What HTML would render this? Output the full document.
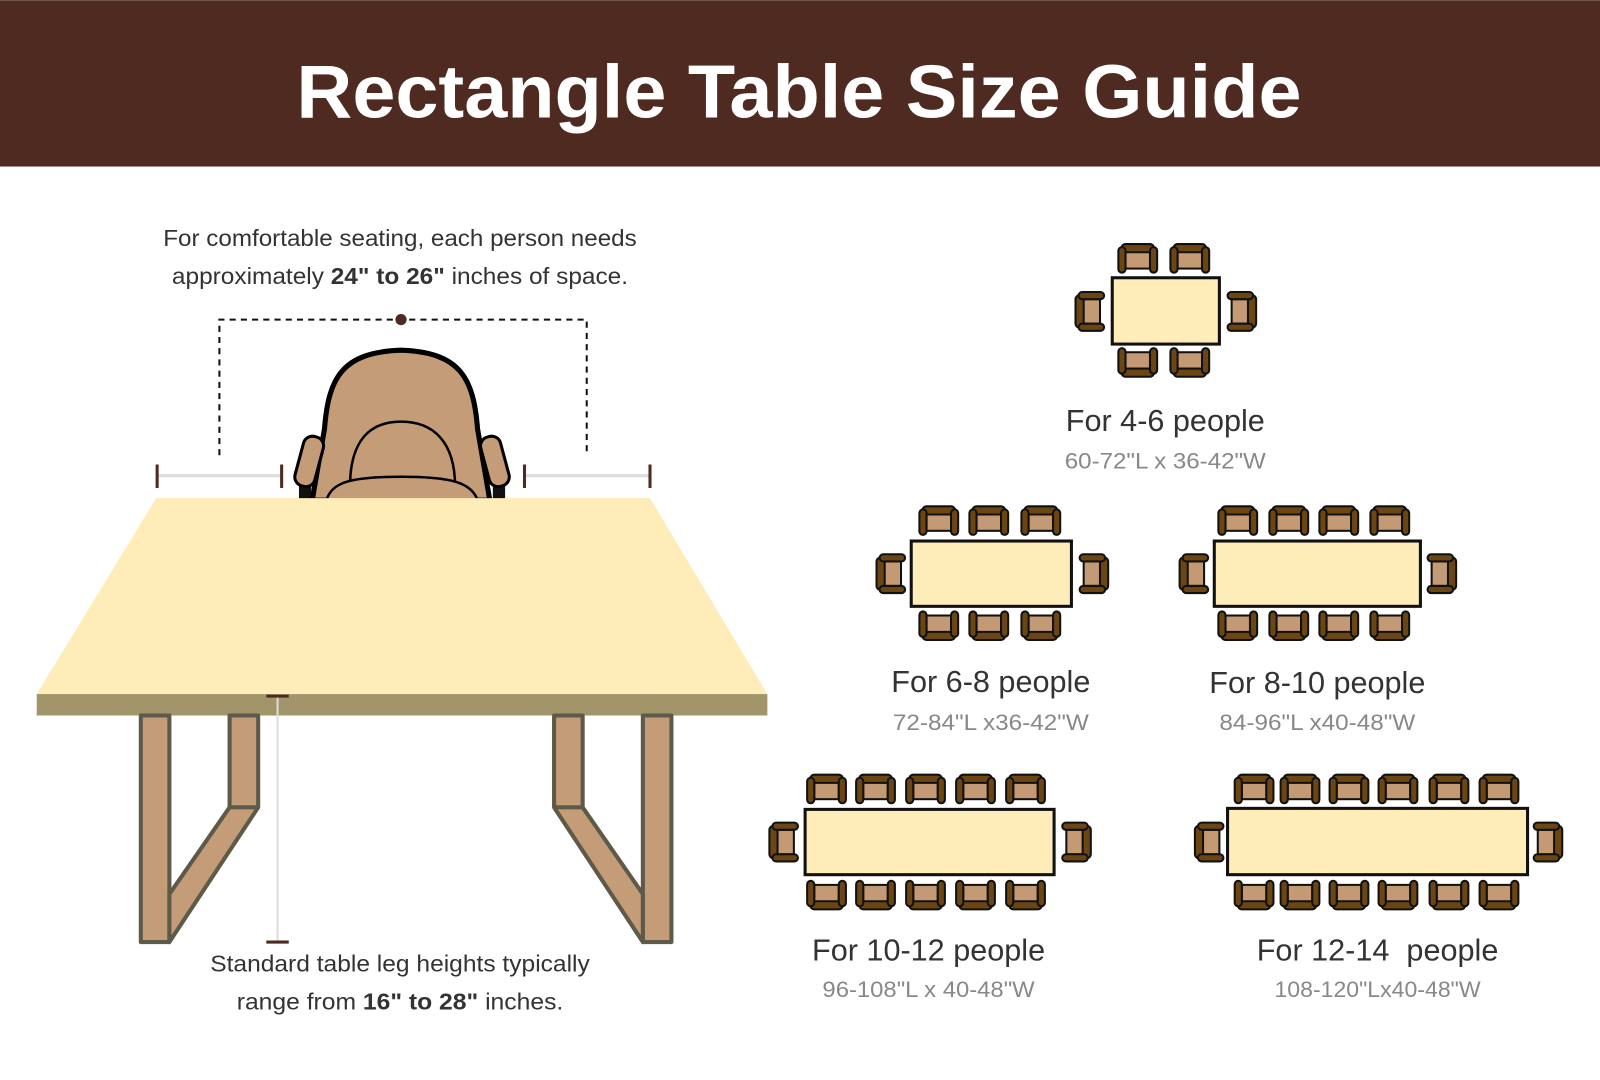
<!DOCTYPE html>
<html><head><meta charset="utf-8"><style>
html,body{margin:0;padding:0;background:#fff;}
svg{display:block;}
text{font-family:"Liberation Sans",sans-serif;}
</style></head><body>
<svg width="1600" height="1080" viewBox="0 0 1568 1058" xmlns="http://www.w3.org/2000/svg">
<defs>
<g id="ch">
<rect x="-12" y="-10" width="24" height="19" fill="#c49a74" stroke="#111" stroke-width="2"/>
<rect x="-16" y="-15" width="32" height="8" rx="4" fill="#6b4512" stroke="#111" stroke-width="2"/>
<rect x="-19" y="-12" width="7" height="25" rx="3.5" fill="#6b4512" stroke="#111" stroke-width="2"/>
<rect x="12" y="-12" width="7" height="25" rx="3.5" fill="#6b4512" stroke="#111" stroke-width="2"/>
</g>
</defs>
<rect x="0" y="0" width="1568" height="163" fill="#4e2a20"/>
<text x="783" y="115" text-anchor="middle" font-size="74" font-weight="bold" fill="#fff" textLength="985" lengthAdjust="spacingAndGlyphs">Rectangle Table Size Guide</text>

<!-- left text -->
<text x="392" y="241" text-anchor="middle" font-size="23" fill="#333" textLength="464" lengthAdjust="spacingAndGlyphs">For comfortable seating, each person needs</text>
<text x="392" y="278" text-anchor="middle" font-size="23" fill="#333" textLength="447" lengthAdjust="spacingAndGlyphs">approximately <tspan font-weight="bold">24" to 26"</tspan> inches of space.</text>

<path d="M215,446 V313 H575 V446" fill="none" stroke="#111" stroke-width="2" stroke-dasharray="6,5"/>
<circle cx="393" cy="313" r="5.5" fill="#4e2a20"/>
<line x1="153" y1="466" x2="276" y2="466" stroke="#ddd" stroke-width="3"/>
<line x1="514" y1="466" x2="637" y2="466" stroke="#ddd" stroke-width="3"/>
<g stroke="#4e2a20" stroke-width="3">
<line x1="154" y1="455" x2="154" y2="478"/><line x1="276" y1="455" x2="276" y2="478"/>
<line x1="514" y1="455" x2="514" y2="478"/><line x1="637" y1="455" x2="637" y2="478"/>
</g>

<!-- big chair -->
<rect x="293" y="465" width="12" height="25" fill="#111"/>
<rect x="483" y="465" width="12" height="25" fill="#111"/>
<path d="M306,490 L318,420 C322,370 335,345 393,343 C451,345 464,370 468,420 L480,490 Z" fill="#c49c78" stroke="#000" stroke-width="5"/>
<path d="M343,477 C343,432 362,413 393,413 C424,413 446,432 446,477" fill="none" stroke="#000" stroke-width="2.5"/>
<path d="M320,490 C325,472 345,467 393,467 C440,467 462,472 468,490" fill="#c49c78" stroke="#000" stroke-width="2.5"/>
<rect x="-10" y="-25" width="20" height="50" rx="9" transform="translate(303,452) rotate(15)" fill="#c49c78" stroke="#000" stroke-width="3"/>
<rect x="-10" y="-25" width="20" height="50" rx="9" transform="translate(485,452) rotate(-15)" fill="#c49c78" stroke="#000" stroke-width="3"/>

<!-- table -->
<polygon points="153,488 637,488 752,680 36,680" fill="#feedb9"/>
<rect x="36" y="680" width="716" height="21" fill="#a3956a"/>
<g fill="#c49c78" stroke="#5e5a4a" stroke-width="4" stroke-linejoin="round">
<rect x="138" y="701" width="28" height="222"/>
<polygon points="225,701 253,701 253,791 166,923 166,876 225,791"/>
<line x1="225" y1="791" x2="253" y2="791"/>
<rect x="630" y="701" width="28" height="222"/>
<polygon points="571,701 543,701 543,791 630,923 630,876 571,791"/>
<line x1="571" y1="791" x2="543" y2="791"/>
</g>
<line x1="272" y1="682" x2="272" y2="923" stroke="#ddd" stroke-width="2"/>
<line x1="261" y1="682" x2="283" y2="682" stroke="#4e2a20" stroke-width="3"/>
<line x1="261" y1="923" x2="283" y2="923" stroke="#4e2a20" stroke-width="3"/>
<text x="392" y="952" text-anchor="middle" font-size="23" fill="#333" textLength="372" lengthAdjust="spacingAndGlyphs">Standard table leg heights typically</text>
<text x="392" y="989" text-anchor="middle" font-size="23" fill="#333" textLength="320" lengthAdjust="spacingAndGlyphs">range from <tspan font-weight="bold">16" to 28"</tspan> inches.</text>

<!-- 4-6 -->
<rect x="1090" y="272" width="105" height="65" fill="#feedb9" stroke="#111" stroke-width="3"/>
<use href="#ch" x="1115" y="254"/><use href="#ch" x="1166" y="254"/>
<use href="#ch" transform="translate(1115,354) rotate(180)"/><use href="#ch" transform="translate(1166,354) rotate(180)"/>
<use href="#ch" transform="translate(1069,305) rotate(-90)"/><use href="#ch" transform="translate(1216,305) rotate(90)"/>
<text x="1142" y="422" text-anchor="middle" font-size="30" fill="#333">For 4-6 people</text>
<text x="1142" y="459" text-anchor="middle" font-size="22" fill="#888" textLength="197" lengthAdjust="spacingAndGlyphs">60-72"L x 36-42"W</text>

<!-- 6-8 -->
<rect x="893" y="530" width="157" height="64" fill="#feedb9" stroke="#111" stroke-width="3"/>
<use href="#ch" x="920" y="511"/><use href="#ch" x="969" y="511"/><use href="#ch" x="1020" y="511"/>
<use href="#ch" transform="translate(920,612) rotate(180)"/><use href="#ch" transform="translate(969,612) rotate(180)"/><use href="#ch" transform="translate(1020,612) rotate(180)"/>
<use href="#ch" transform="translate(874,562) rotate(-90)"/><use href="#ch" transform="translate(1071,562) rotate(90)"/>
<text x="971" y="678" text-anchor="middle" font-size="30" fill="#333">For 6-8 people</text>
<text x="971" y="715" text-anchor="middle" font-size="22" fill="#888" textLength="192" lengthAdjust="spacingAndGlyphs">72-84"L x36-42"W</text>

<!-- 8-10 -->
<rect x="1190" y="530" width="202" height="64" fill="#feedb9" stroke="#111" stroke-width="3"/>
<use href="#ch" x="1213" y="511"/><use href="#ch" x="1263" y="511"/><use href="#ch" x="1312" y="511"/><use href="#ch" x="1362" y="511"/>
<use href="#ch" transform="translate(1213,612) rotate(180)"/><use href="#ch" transform="translate(1263,612) rotate(180)"/><use href="#ch" transform="translate(1312,612) rotate(180)"/><use href="#ch" transform="translate(1362,612) rotate(180)"/>
<use href="#ch" transform="translate(1171,562) rotate(-90)"/><use href="#ch" transform="translate(1412,562) rotate(90)"/>
<text x="1291" y="679" text-anchor="middle" font-size="30" fill="#333">For 8-10 people</text>
<text x="1291" y="715" text-anchor="middle" font-size="22" fill="#888" textLength="192" lengthAdjust="spacingAndGlyphs">84-96"L x40-48"W</text>

<!-- 10-12 -->
<rect x="789" y="793" width="244" height="64" fill="#feedb9" stroke="#111" stroke-width="3"/>
<use href="#ch" x="810" y="774"/><use href="#ch" x="858" y="774"/><use href="#ch" x="907" y="774"/><use href="#ch" x="956" y="774"/><use href="#ch" x="1005" y="774"/>
<use href="#ch" transform="translate(810,876) rotate(180)"/><use href="#ch" transform="translate(858,876) rotate(180)"/><use href="#ch" transform="translate(907,876) rotate(180)"/><use href="#ch" transform="translate(956,876) rotate(180)"/><use href="#ch" transform="translate(1005,876) rotate(180)"/>
<use href="#ch" transform="translate(769,825) rotate(-90)"/><use href="#ch" transform="translate(1054,825) rotate(90)"/>
<text x="910" y="941" text-anchor="middle" font-size="30" fill="#333">For 10-12 people</text>
<text x="910" y="977" text-anchor="middle" font-size="22" fill="#888" textLength="208" lengthAdjust="spacingAndGlyphs">96-108"L x 40-48"W</text>

<!-- 12-14 -->
<rect x="1203" y="792" width="294" height="65" fill="#feedb9" stroke="#111" stroke-width="3"/>
<use href="#ch" x="1229" y="774"/><use href="#ch" x="1274" y="774"/><use href="#ch" x="1322" y="774"/><use href="#ch" x="1370" y="774"/><use href="#ch" x="1420" y="774"/><use href="#ch" x="1469" y="774"/>
<use href="#ch" transform="translate(1229,876) rotate(180)"/><use href="#ch" transform="translate(1274,876) rotate(180)"/><use href="#ch" transform="translate(1322,876) rotate(180)"/><use href="#ch" transform="translate(1370,876) rotate(180)"/><use href="#ch" transform="translate(1420,876) rotate(180)"/><use href="#ch" transform="translate(1469,876) rotate(180)"/>
<use href="#ch" transform="translate(1186,825) rotate(-90)"/><use href="#ch" transform="translate(1516,825) rotate(90)"/>
<text x="1350" y="941" text-anchor="middle" font-size="30" fill="#333" xml:space="preserve">For 12-14  people</text>
<text x="1350" y="977" text-anchor="middle" font-size="22" fill="#888" textLength="202" lengthAdjust="spacingAndGlyphs">108-120"Lx40-48"W</text>
</svg>
</body></html>
